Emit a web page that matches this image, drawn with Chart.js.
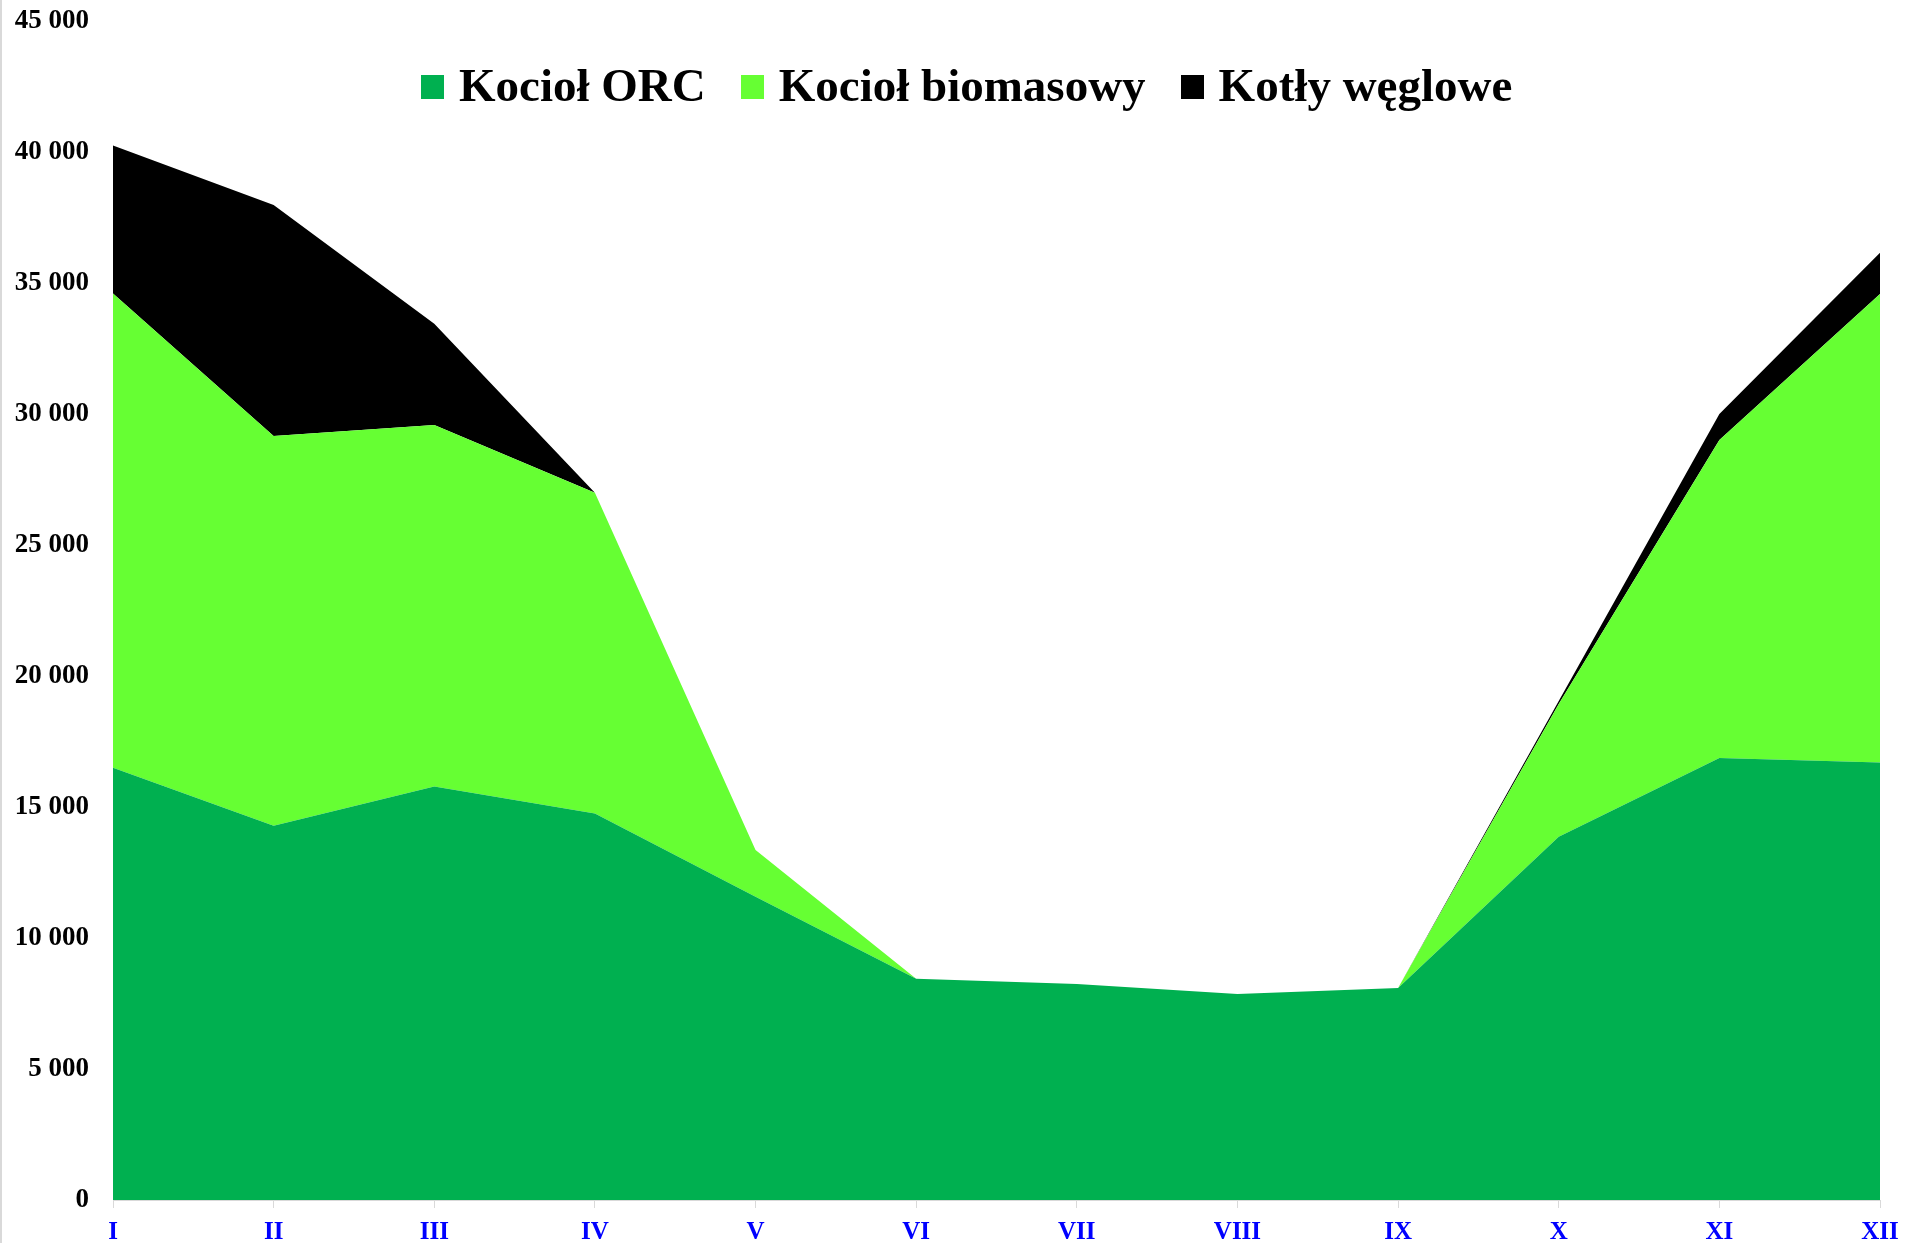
<!DOCTYPE html>
<html lang="pl">
<head>
<meta charset="utf-8">
<title>Produkcja ciepła</title>
<script src="https://cdn.jsdelivr.net/npm/chart.js@4/dist/chart.umd.min.js"></script>
<style>
    body { margin: 0; background: #fff; }
    #wykres { position: relative; width: 1905px; height: 1243px; }
    #ramka { position: absolute; left: 0; top: 0; width: 2px; height: 1243px; background: #d9d9d9; }
    #legenda {
        position: absolute; left: 421px; top: 62px;
        display: flex; align-items: center;
        font-family: "Liberation Serif", "Times New Roman", serif;
        font-weight: bold; font-size: 47px; line-height: 47px; color: #000;
    }
    #legenda .item { display: flex; align-items: center; margin-right: 35px; }
    #legenda .kwadrat { width: 23px; height: 24px; margin-right: 15px; margin-top: 2px; }
</style>
</head>
<body>
<div id="wykres">
    <canvas id="canvas"></canvas>
    <div id="ramka"></div>
    <div id="legenda"></div>
</div>
<script>
// dane
const miesiace = ['I', 'II', 'III', 'IV', 'V', 'VI', 'VII', 'VIII', 'IX', 'X', 'XI', 'XII'];
const kociolORC = [16500, 14280, 15780, 14750, 11570, 8440, 8240, 7860, 8090, 13860, 16870, 16700];
const kociolBiomasowy = [18100, 14880, 13800, 12240, 1790, 0, 0, 0, 0, 5070, 12140, 17880];
const kotlyWeglowe = [5650, 8820, 3860, 0, 0, 0, 0, 0, 0, 120, 990, 1570];
const osY = { min: 0, max: 45000, krok: 5000 };

const czcionka = '"Liberation Serif", "Times New Roman", serif';

// "45000" -> "45 000"
function formatuj(v) {
    return String(v).replace(/\B(?=(\d{3})+(?!\d))/g, ' ');
}

function seria(nazwa, dane, kolor, fill) {
    return {
        label: nazwa,
        data: dane,
        backgroundColor: kolor,
        borderColor: kolor,
        borderWidth: 0,
        pointRadius: 0,
        tension: 0,
        fill: fill
    };
}

const ctx = document.getElementById('canvas');

const chart = new Chart(ctx, {
    type: 'line',
    data: {
        labels: miesiace,
        datasets: [
            seria('Kocioł ORC', kociolORC, '#00B050', 'origin'),
            seria('Kocioł biomasowy', kociolBiomasowy, '#66FF33', '-1'),
            seria('Kotły węglowe', kotlyWeglowe, '#000000', '-1')
        ]
    },
    options: {
        responsive: true,
        maintainAspectRatio: false,
        animation: false,
        layout: { padding: { top: 21, right: 25, left: 0, bottom: 0 } },
        plugins: {
            legend: { display: false },
            tooltip: { enabled: false }
        },
        scales: {
            x: {
                offset: false,
                grid: { drawOnChartArea: false, drawTicks: true, tickLength: 8, color: '#d9d9d9' },
                border: { display: true, color: '#d9d9d9', width: 1 },
                ticks: {
                    color: '#0000FF',
                    font: { family: czcionka, size: 25, weight: 'bold' },
                    padding: 10,
                    maxRotation: 0,
                    autoSkip: false
                },
                afterFit: function (scale) {
                    scale.height = 43;
                    scale.paddingLeft = 0;
                    scale.paddingRight = 0;
                }
            },
            y: {
                stacked: true,
                min: osY.min,
                max: osY.max,
                grid: { display: false, drawTicks: false },
                border: { display: false },
                ticks: {
                    stepSize: osY.krok,
                    color: '#000',
                    font: { family: czcionka, size: 27, weight: 'bold' },
                    padding: 24,
                    callback: function (v) { return formatuj(v); }
                },
                afterFit: function (scale) {
                    scale.width = 113;
                    scale.paddingTop = 0;
                    scale.paddingBottom = 0;
                }
            }
        }
    }
});

// legenda w HTML, na wykresie
const legenda = document.getElementById('legenda');
chart.data.datasets.forEach(ds => {
    const item = document.createElement('div');
    item.classList.add('item');
    const kwadrat = document.createElement('div');
    kwadrat.classList.add('kwadrat');
    kwadrat.style.background = ds.backgroundColor;
    const tekst = document.createElement('span');
    tekst.innerText = ds.label;
    item.append(kwadrat);
    item.append(tekst);
    legenda.append(item);
});
</script>
</body>
</html>
